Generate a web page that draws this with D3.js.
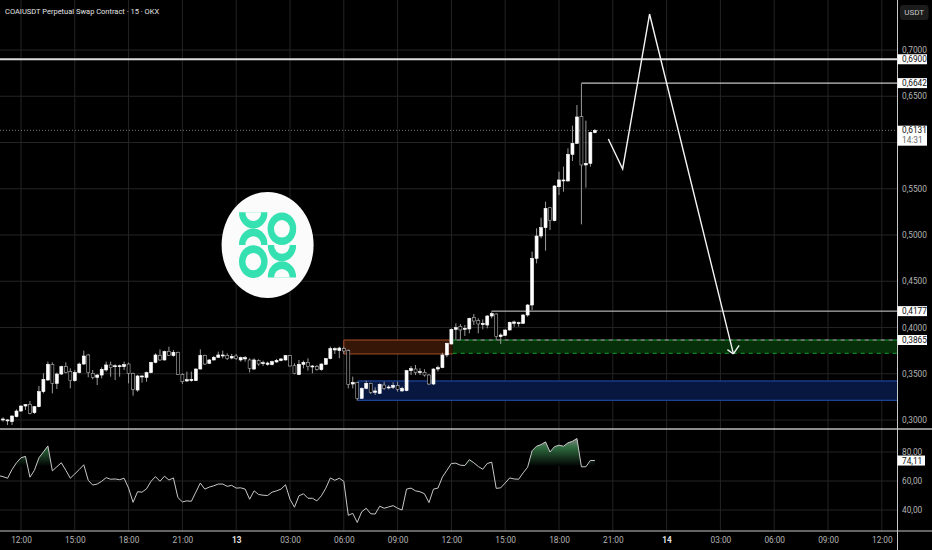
<!DOCTYPE html>
<html>
<head>
<meta charset="utf-8">
<style>
  html, body { margin: 0; padding: 0; background: #000; overflow: hidden; }
  svg { display: block; }
  text { font-family: Roboto, "Liberation Sans", sans-serif; }
</style>
</head>
<body>
<div id="chart"></div>
<script src="https://cdn.jsdelivr.net/npm/d3@7"></script>
<script>
//15 min bars, first one sits 4 bars before 12:00 on the 12th
var firstBar = -4;
var opens = [.3001,.2993,.2982,.3036,.3097,.3151,.3166,.3079,.3144,.3306,.3432,.3602,.3396,.3497,.3577,.3523,.3425,.3512,.3605,.3703,.3505,.3461,.3486,.3541,.3595,.3577,.3580,.3577,.3605,.3505,.3324,.3465,.3461,.3512,.3623,.3699,.3649,.3742,.3696,.3732,.3494,.3422,.3425,.3425,.3551,.3699,.3613,.3649,.3678,.3696,.3696,.3670,.3692,.3649,.3660,.3649,.3551,.3642,.3609,.3602,.3598,.3627,.3642,.3649,.3696,.3587,.3490,.3602,.3623,.3577,.3577,.3544,.3602,.3663,.3757,.3750,.3771,.3750,.3389,.3407,.3234,.3342,.3396,.3299,.3288,.3378,.3346,.3353,.3371,.3314,.3317,.3533,.3551,.3512,.3515,.3486,.3389,.3551,.3566,.3703,.3822,.3980,.4009,.3984,.3984,.4106,.4074,.4031,.4027,.4124,.4146,.3901,.3915,.3973,.4045,.4045,.4045,.4135,.4243,.4748,.4989,.5079,.5295,.5155,.5522,.5584,.5584,.5872,.5991,.6279,.5757,.5775,.6106];
var highs = [.3029,.3007,.3050,.3115,.3158,.3173,.3205,.3151,.3368,.3505,.3631,.3623,.3512,.3587,.3623,.3559,.3541,.3620,.3750,.3714,.3541,.3497,.3569,.3631,.3631,.3602,.3598,.3631,.3620,.3512,.3486,.3483,.3523,.3631,.3721,.3764,.3750,.3793,.3757,.3739,.3505,.3523,.3523,.3559,.3764,.3706,.3660,.3692,.3739,.3750,.3721,.3714,.3714,.3685,.3692,.3667,.3667,.3656,.3642,.3631,.3642,.3660,.3670,.3703,.3703,.3613,.3649,.3642,.3667,.3595,.3595,.3613,.3670,.3793,.3786,.3793,.3793,.3764,.3469,.3414,.3353,.3425,.3404,.3353,.3396,.3414,.3378,.3407,.3414,.3360,.3541,.3584,.3595,.3559,.3548,.3497,.3559,.3587,.3728,.3836,.3991,.4045,.4038,.4027,.4106,.4146,.4099,.4088,.4135,.4175,.4153,.3937,.3980,.4063,.4074,.4063,.4146,.4254,.4820,.5072,.5187,.5360,.5303,.5537,.5685,.5739,.5937,.6182,.6405,.6640,.6236,.6117,.6146];
var lows = [.2982,.2946,.2946,.3029,.3090,.3108,.3061,.3065,.3137,.3288,.3425,.3288,.3335,.3486,.3505,.3342,.3414,.3505,.3595,.3461,.3440,.3378,.3450,.3523,.3468,.3432,.3468,.3541,.3396,.3263,.3306,.3404,.3414,.3505,.3613,.3638,.3642,.3692,.3685,.3486,.3389,.3411,.3414,.3422,.3548,.3595,.3605,.3642,.3670,.3667,.3649,.3656,.3649,.3631,.3631,.3515,.3541,.3587,.3584,.3587,.3591,.3620,.3634,.3642,.3577,.3494,.3486,.3559,.3533,.3505,.3533,.3533,.3598,.3656,.3714,.3667,.3714,.3342,.3342,.3209,.3227,.3332,.3281,.3270,.3281,.3324,.3332,.3335,.3306,.3306,.3310,.3486,.3486,.3486,.3469,.3378,.3378,.3523,.3559,.3678,.3815,.3865,.3865,.3908,.3937,.4027,.3937,.3980,.3991,.4099,.3865,.3822,.3908,.3966,.4009,.4009,.4038,.4117,.4189,.4694,.4964,.4831,.5054,.5148,.5432,.5468,.5577,.5800,.5984,.5115,.5512,.5739,.6099];
var closes = [.3011,.3001,.3043,.3097,.3151,.3166,.3072,.3144,.3306,.3440,.3602,.3396,.3497,.3577,.3515,.3425,.3515,.3605,.3692,.3512,.3461,.3486,.3548,.3595,.3566,.3587,.3587,.3598,.3505,.3332,.3476,.3476,.3512,.3623,.3703,.3649,.3739,.3699,.3732,.3494,.3414,.3436,.3440,.3551,.3699,.3605,.3649,.3678,.3703,.3703,.3663,.3688,.3667,.3674,.3674,.3559,.3649,.3605,.3620,.3616,.3631,.3645,.3660,.3696,.3584,.3501,.3602,.3623,.3577,.3584,.3548,.3605,.3663,.3771,.3771,.3778,.3746,.3386,.3407,.3234,.3342,.3396,.3299,.3314,.3386,.3342,.3357,.3375,.3332,.3342,.3533,.3555,.3515,.3523,.3486,.3389,.3551,.3566,.3703,.3829,.3980,.3998,.3973,.3991,.4099,.4070,.4038,.4045,.4124,.4150,.3901,.3919,.3973,.4056,.4060,.4052,.4135,.4243,.4748,.4989,.5079,.5288,.5155,.5530,.5595,.5595,.5872,.5991,.6276,.5757,.5775,.6110,.6131];

//RSI, one bar earlier than the candles so the line runs off the left edge
var rsiFirstBar = -5;
var rsi = [63.7,63.0,61.9,67.9,72.6,76.0,77.0,62.6,67.4,76.0,80.0,84.2,67.0,69.8,72.6,67.4,61.9,64.9,67.9,71.2,60.5,57.2,57.9,59.8,62.3,61.2,61.4,60.9,61.9,55.1,45.3,52.6,52.3,54.6,59.8,63.0,59.8,63.3,60.7,62.1,48.6,45.6,46.3,46.0,52.3,58.6,54.4,55.8,56.7,57.9,57.9,56.3,57.0,55.1,55.3,54.4,47.4,53.2,50.7,50.2,50.0,52.3,53.2,54.4,57.4,47.4,41.9,49.8,51.2,48.1,48.1,46.3,49.8,55.1,62.1,60.5,61.9,59.8,36.3,37.7,31.4,38.8,41.2,37.4,37.2,42.6,41.2,42.1,43.0,41.2,40.0,54.4,55.1,53.2,52.6,51.2,45.1,54.4,55.1,62.8,67.4,72.1,72.3,70.9,70.7,74.7,72.6,70.0,68.1,72.1,73.0,54.9,55.3,58.6,62.1,61.4,61.2,65.6,69.5,80.9,84.0,85.1,87.0,80.0,83.7,84.7,84.0,86.3,87.4,89.3,69.8,69.8,74.2,74.11];

var priceTicks = [.7, .65, .55, .5, .45, .4, .35, .3];
var gridPrices = [.7, .65, .6, .55, .5, .45, .4, .35, .3];
var rsiTicks = [80, 60, 40];
var timeBars = [0, 12, 24, 36, 48, 60, 72, 84, 96, 108, 120, 132, 144, 156, 168, 180, 192];
var timeLabels = ["12:00","15:00","18:00","21:00","13","03:00","06:00","09:00","12:00","15:00","18:00","21:00","14","03:00","06:00","09:00","12:00"];

//drawings on the chart: [bar, price]
var projection = [[131, .6038], [134.2, .5714], [140.2, .7389], [158.9, .3714]];
var lastPrice = .6131, lastRsi = 74.11, swingHigh = .6642, topLevel = .69, breakLevel = .4177, targetLevel = .3865;
var orangeZone = {from: 72, to: 96.3, top: .3865, bottom: .3714};
var blueZone = {from: 75.1, top: .3422, bottom: .3213};
var greenZone = {from: 96.3, top: .3865, bottom: .3721};

var width = 932, height = 550;
var axisX = 897.5, mainBottom = 429, paneBottom = 531;
var labelSize = 8.3;

var x = d3.scaleLinear().domain([-4.68, 195.5]).range([0, axisX]);
var y = d3.scaleLinear().domain([.3, .7]).range([420, 50]);
var yRsi = d3.scaleLinear().domain([40, 80]).range([510, 452]);

var svg = d3.select("#chart").append("svg")
    .attr("width", width)
    .attr("height", height);

var defs = svg.append("defs");
defs.append("clipPath").attr("id", "mainClip")
    .append("rect").attr("width", axisX).attr("height", mainBottom);

//green fade under the overbought part of the RSI
var grad = defs.append("linearGradient").attr("id", "obFill")
    .attr("gradientUnits", "userSpaceOnUse")
    .attr("x1", 0).attr("x2", 0)
    .attr("y1", yRsi(90)).attr("y2", yRsi(70));
grad.append("stop").attr("offset", "0%").attr("stop-color", "#8a8a8a");
grad.append("stop").attr("offset", "35%").attr("stop-color", "#2f6a3f");
grad.append("stop").attr("offset", "100%").attr("stop-color", "#000");

defs.append("clipPath").attr("id", "obClip")
    .append("rect").attr("width", axisX).attr("y", 0).attr("height", yRsi(70));

svg.append("rect").attr("width", width).attr("height", height).attr("fill", "#000");

///////////////////////////// grid /////////////////////////////
var grid = svg.append("g").attr("stroke", "#242424").attr("stroke-width", 1);
grid.selectAll(".vg").data(timeBars).enter().append("line")
    .attr("x1", function(d) { return x(d); }).attr("x2", function(d) { return x(d); })
    .attr("y1", 0).attr("y2", paneBottom);
grid.selectAll(".hg").data(gridPrices).enter().append("line")
    .attr("x1", 0).attr("x2", axisX)
    .attr("y1", function(d) { return y(d); }).attr("y2", function(d) { return y(d); });
grid.selectAll(".rg").data(rsiTicks).enter().append("line")
    .attr("x1", 0).attr("x2", axisX)
    .attr("y1", function(d) { return yRsi(d); }).attr("y2", function(d) { return yRsi(d); });

var main = svg.append("g").attr("clip-path", "url(#mainClip)");

///////////////////////////// zones and levels /////////////////////////////
function zone(z, fill, stroke, dash) {
  var x0 = x(z.from), x1 = z.to === undefined ? axisX : x(z.to);
  main.append("rect")
      .attr("x", x0).attr("y", y(z.top))
      .attr("width", x1 - x0).attr("height", y(z.bottom) - y(z.top))
      .attr("fill", fill);
  [z.top, z.bottom].forEach(function(v) {
    main.append("line")
        .attr("x1", x0).attr("x2", x1)
        .attr("y1", y(v)).attr("y2", y(v))
        .attr("stroke", stroke).attr("stroke-width", 1)
        .attr("stroke-dasharray", dash);
  });
}
function level(from, price, color, w) {
  main.append("line")
      .attr("x1", x(from)).attr("x2", axisX)
      .attr("y1", y(price)).attr("y2", y(price))
      .attr("stroke", color).attr("stroke-width", w);
}

zone(orangeZone, "#361707", "#a8502a");
main.append("line")
    .attr("x1", x(orangeZone.from)).attr("x2", x(orangeZone.from))
    .attr("y1", y(orangeZone.top)).attr("y2", y(orangeZone.bottom))
    .attr("stroke", "#a8502a");
zone(blueZone, "#081740", "#2453b8");
zone(greenZone, "#053009", "#18a030", "4,4");
//target level shows through the gaps of the green dashes
main.append("line")
    .attr("x1", x(greenZone.from)).attr("x2", axisX)
    .attr("y1", y(targetLevel)).attr("y2", y(targetLevel))
    .attr("stroke", "#c4c4c4").attr("stroke-dasharray", "4,4").attr("stroke-dashoffset", 4);

level(-4.68, topLevel, "#dcdcdc", 2);
level(125, swingHigh, "#c4c4c4", 1.4);
level(105, breakLevel, "#d8d8d8", 1);

//last price dotted line
main.append("line")
    .attr("x1", 0).attr("x2", axisX)
    .attr("y1", y(lastPrice)).attr("y2", y(lastPrice))
    .attr("stroke", "#777").attr("stroke-dasharray", "1,2");

///////////////////////////// candles /////////////////////////////
var bars = d3.range(opens.length).map(function(i) {
  return {bar: firstBar + i, o: opens[i], h: highs[i], l: lows[i], c: closes[i]};
});

var candle = main.selectAll(".candle").data(bars).enter().append("g").attr("class", "candle");
candle.append("line")
    .attr("x1", function(d) { return x(d.bar); })
    .attr("x2", function(d) { return x(d.bar); })
    .attr("y1", function(d) { return y(d.h); })
    .attr("y2", function(d) { return y(d.l); })
    .attr("stroke", "#9a9a9a").attr("stroke-width", 1);
candle.append("rect")
    .attr("x", function(d) { return x(d.bar) - 1.5; })
    .attr("width", 3)
    .attr("y", function(d) { return y(Math.max(d.o, d.c)); })
    .attr("height", function(d) { return Math.max(1, Math.abs(y(d.o) - y(d.c))); })
    .attr("fill", function(d) { return d.c >= d.o ? "#fff" : "#000"; })
    .attr("stroke", function(d) { return d.c >= d.o ? "#fff" : "#b4b4b4"; })
    .attr("stroke-width", 0.6);

///////////////////////////// projection arrow /////////////////////////////
var pts = projection.map(function(p) { return [x(p[0]), y(p[1])]; });
main.append("path")
    .attr("d", d3.line()(pts))
    .attr("fill", "none").attr("stroke", "#f4f4f4").attr("stroke-width", 1.4);

var tip = pts[pts.length - 1], prev = pts[pts.length - 2];
var ang = Math.atan2(tip[1] - prev[1], tip[0] - prev[0]);
[[2.44, 7.4], [-2.31, 10.3]].forEach(function(b) {
  main.append("line")
      .attr("x1", tip[0]).attr("y1", tip[1])
      .attr("x2", tip[0] + b[1] * Math.cos(ang + b[0]))
      .attr("y2", tip[1] + b[1] * Math.sin(ang + b[0]))
      .attr("stroke", "#f4f4f4").attr("stroke-width", 1.4);
});

///////////////////////////// logo /////////////////////////////
var logoColor = "#35e1b0", logoPaper = "#fbfbfb";
var logo = svg.append("g").attr("transform", "translate(267.6,245)");
logo.append("ellipse").attr("rx", 46).attr("ry", 53).attr("fill", logoPaper);

function ring(parent, cx, cy) {
  parent.append("ellipse").attr("cx", cx).attr("cy", cy).attr("rx", 14.3).attr("ry", 16.3).attr("fill", logoColor);
  parent.append("ellipse").attr("cx", cx).attr("cy", cy).attr("rx", 7.9).attr("ry", 8.7).attr("fill", logoPaper);
}
function cross(id, cx, top) {
  defs.append("clipPath").attr("id", id)
      .append("rect").attr("x", cx - 14.3).attr("y", top).attr("width", 28.6).attr("height", 32.6);
  var g = logo.append("g").attr("clip-path", "url(#" + id + ")");
  ring(g, cx, top);
  ring(g, cx, top + 32.6);
}
cross("logoA", -14.3, -32.7);
ring(logo, 14.3, -16.2);
ring(logo, -14.3, 16.6);
cross("logoB", 14.3, 0);

///////////////////////////// RSI /////////////////////////////
var rsiLine = d3.line()
    .x(function(d, i) { return x(rsiFirstBar + i); })
    .y(function(d) { return yRsi(d); });

var rsiArea = d3.area()
    .x(function(d, i) { return x(rsiFirstBar + i); })
    .y0(yRsi(70))
    .y1(function(d) { return yRsi(d); });

svg.append("path")
    .attr("d", rsiArea(rsi))
    .attr("fill", "url(#obFill)")
    .attr("clip-path", "url(#obClip)");
svg.append("path")
    .attr("d", rsiLine(rsi))
    .attr("fill", "none").attr("stroke", "#c8c8c8").attr("stroke-width", 1);

///////////////////////////// frame /////////////////////////////
svg.append("line").attr("x1", 0).attr("x2", width).attr("y1", mainBottom).attr("y2", mainBottom)
    .attr("stroke", "#bdbdbd").attr("stroke-width", 1.4);
svg.append("line").attr("x1", 0).attr("x2", width).attr("y1", paneBottom).attr("y2", paneBottom)
    .attr("stroke", "#c8c8c8").attr("stroke-width", 1);
svg.append("line").attr("x1", axisX).attr("x2", axisX).attr("y1", 0).attr("y2", height)
    .attr("stroke", "#c8c8c8").attr("stroke-width", 1);

///////////////////////////// axes /////////////////////////////
function comma(fmt) {
  var f = d3.format(fmt);
  return function(d) { return f(d).replace(".", ","); };
}

var priceAxis = svg.append("g")
    .attr("transform", "translate(" + axisX + ",0)")
    .call(d3.axisRight(y).tickValues(priceTicks).tickSize(0).tickPadding(4.5).tickFormat(comma(".4f")));
var rsiAxis = svg.append("g")
    .attr("transform", "translate(" + axisX + ",0)")
    .call(d3.axisRight(yRsi).tickValues(rsiTicks).tickSize(0).tickPadding(4.5).tickFormat(comma(".2f")));
var timeAxis = svg.append("g")
    .attr("transform", "translate(0," + paneBottom + ")")
    .call(d3.axisBottom(x).tickValues(timeBars).tickSize(0).tickPadding(6.5)
      .tickFormat(function(d, i) { return timeLabels[i]; }));

[priceAxis, rsiAxis, timeAxis].forEach(function(a) {
  a.select(".domain").remove();
  a.selectAll("text").attr("fill", "#b4b4b4").attr("font-size", labelSize)
      .style("font-family", "Roboto, 'Liberation Sans', sans-serif");
});
timeAxis.selectAll("text")
    .attr("font-weight", function(d, i) { return timeLabels[i].length == 2 ? 700 : 400; })
    .attr("fill", function(d, i) { return timeLabels[i].length == 2 ? "#e0e0e0" : "#b4b4b4"; });

///////////////////////////// price tags /////////////////////////////
function tag(v, scale, txt, w) {
  var cy = scale(v);
  svg.append("rect").attr("x", axisX).attr("y", cy - 5).attr("width", w).attr("height", 10).attr("fill", "#fff");
  svg.append("text").attr("x", axisX + 4.5).attr("y", cy + 3)
      .attr("font-size", labelSize).attr("fill", "#111").text(txt);
}
var fmt4 = comma(".4f");
tag(topLevel, y, fmt4(topLevel), 29.5);
tag(swingHigh, y, fmt4(swingHigh), 29.5);
tag(breakLevel, y, fmt4(breakLevel), 29.5);
tag(targetLevel, y, fmt4(targetLevel), 29.5);
tag(lastRsi, yRsi, comma(".2f")(lastRsi), 27.5);

//last price tag with the countdown
svg.append("rect").attr("x", axisX).attr("y", y(lastPrice) - 4.7).attr("width", 29.5).attr("height", 20).attr("fill", "#fff");
svg.append("text").attr("x", axisX + 4.5).attr("y", y(lastPrice) + 3)
    .attr("font-size", labelSize).attr("fill", "#111").text(fmt4(lastPrice));
svg.append("text").attr("x", axisX + 4.5).attr("y", y(lastPrice) + 12.4)
    .attr("font-size", labelSize).attr("fill", "#666").text("14:31");

//currency button
svg.append("rect").attr("x", 900).attr("y", 5).attr("width", 28.5).attr("height", 15).attr("rx", 3).attr("fill", "#1c1c1c");
svg.append("text").attr("x", 914.2).attr("y", 15.3).attr("text-anchor", "middle")
    .attr("font-size", 8).attr("fill", "#c8c8c8").text("USDT");

///////////////////////////// title /////////////////////////////
svg.append("text").attr("x", 5).attr("y", 13.5)
    .attr("font-size", 7.5).attr("fill", "#e4e4e4")
    .text("COAIUSDT Perpetual Swap Contract · 15 · OKX");
</script>
</body>
</html>
